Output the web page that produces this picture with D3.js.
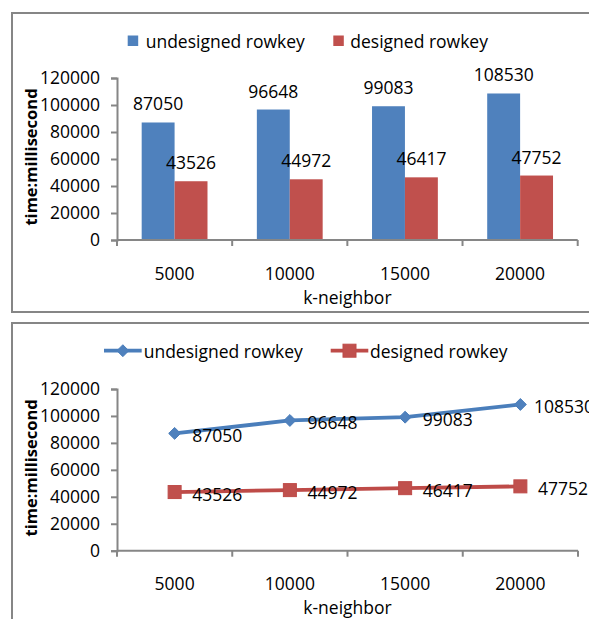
<!DOCTYPE html>
<html><head><meta charset="utf-8">
<script src="https://cdn.jsdelivr.net/npm/d3@7"></script>
<style>
html,body{margin:0;padding:0;background:#fff;}
svg{display:block;}
text{font-family:"Open Sans",sans-serif;fill:#000;}
</style></head>
<body>
<svg id="c" width="589" height="619"></svg>
<script>
const categories = ["5000","10000","15000","20000"];
const undesigned = [87050, 96648, 99083, 108530];
const designed = [43526, 44972, 46417, 47752];
const yTicks = [0,20000,40000,60000,80000,100000,120000];
const seriesNames = ["undesigned rowkey","designed rowkey"];
const xTitle = "k-neighbor";
const yTitle = "time:millisecond";

const BLUE = "#4F81BD", RED = "#C0504D", BLUE_L = "#4A7EBB", RED_L = "#BE4B48";
const GRAY = "#868686";
const FS = 17.5;

const svg = d3.select("#c");

function frame(y, h){
  svg.append("rect").attr("x",12).attr("y",y).attr("width",620).attr("height",h)
    .attr("fill","none").attr("stroke",GRAY).attr("stroke-width",2);
}

function axes(g, x, y, top, bottom){
  // y axis
  const ya = d3.axisLeft(y).tickValues(yTicks).tickSize(6).tickPadding(11).tickFormat(d3.format("d"));
  const yg = g.append("g").attr("transform",`translate(${x.range()[0]},0)`).call(ya);
  yg.select(".domain").attr("stroke",GRAY).attr("stroke-width",2);
  yg.selectAll(".tick line").attr("stroke",GRAY).attr("stroke-width",2);
  yg.selectAll(".tick text").attr("font-size",FS).attr("font-family","Open Sans").attr("fill","#000");
  // x axis
  const xg = g.append("g").attr("transform",`translate(0,${y(0)})`);
  xg.append("line").attr("x1",x.range()[0]).attr("x2",x.range()[1])
    .attr("stroke",GRAY).attr("stroke-width",2);
  const bounds = categories.map(c=>x(c)).concat([x.range()[1]]);
  xg.selectAll("line.tk").data(bounds).join("line").attr("class","tk")
    .attr("x1",d=>d).attr("x2",d=>d).attr("y1",0).attr("y2",6)
    .attr("stroke",GRAY).attr("stroke-width",2);
  xg.selectAll("text.lb").data(categories).join("text").attr("class","lb")
    .attr("x",d=>x(d)+x.bandwidth()/2).attr("y",32.7)
    .attr("text-anchor","middle").attr("dominant-baseline","central")
    .attr("font-size",FS).text(d=>d);
  xg.append("text").attr("x",(x.range()[0]+x.range()[1])/2).attr("y",56.7)
    .attr("text-anchor","middle").attr("dominant-baseline","central")
    .attr("font-size",FS).text(xTitle);
  // y title
  const cy = (y(0)+y(120000))/2 - 2;
  g.append("text").attr("transform",`translate(30,${cy}) rotate(-90)`)
    .attr("text-anchor","middle").attr("dominant-baseline","central")
    .attr("font-size",16.5).attr("font-weight","bold").text(yTitle);
}

// ---------- Top: bar chart ----------
frame(13, 299);
const g1 = svg.append("g");
const x1 = d3.scaleBand().domain(categories).range([117, 577.7]).padding(0);
const y1 = d3.scaleLinear().domain([0,120000]).range([240, 78]);
const bw = x1.bandwidth()/3.5;
const data1 = [undesigned, designed];
const cols = [BLUE, RED];
data1.forEach((vals, si)=>{
  const bx = (c)=> x1(c) + bw*0.75 + si*bw;
  g1.selectAll(null).data(categories).join("rect")
    .attr("x",c=>bx(c)).attr("width",bw)
    .attr("y",(c,i)=>y1(vals[i])).attr("height",(c,i)=>y1(0)-y1(vals[i]))
    .attr("fill",cols[si]);
  g1.selectAll(null).data(categories).join("text")
    .attr("x",c=>bx(c)+bw/2).attr("y",(c,i)=>y1(vals[i])-19)
    .attr("text-anchor","middle").attr("dominant-baseline","central")
    .attr("font-size",FS).text((c,i)=>vals[i]);
});
axes(g1, x1, y1);
// legend top
[[127.7,145.7],[333.3,350.3]].forEach((p,i)=>{
  g1.append("rect").attr("x",p[0]).attr("y",35.5).attr("width",10.5).attr("height",10.5).attr("fill",cols[i]);
  g1.append("text").attr("x",p[1]).attr("y",40.5).attr("dominant-baseline","central")
    .attr("font-size",FS).text(seriesNames[i]);
});

// ---------- Bottom: line chart ----------
frame(323, 400);
const g2 = svg.append("g");
const x2 = d3.scaleBand().domain(categories).range([117, 578]).padding(0);
const y2 = d3.scaleLinear().domain([0,120000]).range([550.7, 389]);
axes(g2, x2, y2);
const lineCols = [BLUE_L, RED_L];
const line = d3.line().x(d=>x2(d.c)+x2.bandwidth()/2).y(d=>y2(d.v));
const diamond = d3.symbol().type(d3.symbolDiamond2).size(80);
data1.forEach((vals, si)=>{
  const pts = categories.map((c,i)=>({c, v:vals[i]}));
  g2.append("path").attr("d",line(pts)).attr("fill","none")
    .attr("stroke",lineCols[si]).attr("stroke-width",3.8).attr("stroke-linejoin","round");
  pts.forEach(p=>{
    const px = x2(p.c)+x2.bandwidth()/2, py = y2(p.v);
    if(si===0){
      g2.append("path").attr("d",d3.symbol().type(d3.symbolDiamond2).size(90)())
        .attr("transform",`translate(${px},${py})`).attr("fill",BLUE).attr("stroke",BLUE_L).attr("stroke-width",1);
    } else {
      g2.append("rect").attr("x",px-6.5).attr("y",py-6.5).attr("width",13).attr("height",13)
        .attr("fill",RED).attr("stroke",RED_L).attr("stroke-width",1);
    }
    const t = g2.append("text").attr("x",px+17.5).attr("y",py+1.5)
      .attr("dominant-baseline","central").attr("font-size",FS).text(p.v);
    const w = t.node().getComputedTextLength();
    const maxRight = 594;
    if(px+17.5+w > maxRight) t.attr("x", Math.max(px+8, maxRight - w));
  });
});
// legend bottom
[[104,141.7,145.7],[330.7,368.3,372]].forEach((p,i)=>{
  g2.append("line").attr("x1",p[0]).attr("x2",p[1]).attr("y1",350.7).attr("y2",350.7)
    .attr("stroke",lineCols[i]).attr("stroke-width",3.8);
  const cx=(p[0]+p[1])/2;
  if(i===0){
    g2.append("path").attr("d",d3.symbol().type(d3.symbolDiamond2).size(90)())
      .attr("transform",`translate(${cx},350.7)`).attr("fill",BLUE).attr("stroke",BLUE_L);
  } else {
    g2.append("rect").attr("x",cx-6.5).attr("y",344.2).attr("width",13).attr("height",13)
      .attr("fill",RED).attr("stroke",RED_L);
  }
  g2.append("text").attr("x",p[2]-2).attr("y",351).attr("dominant-baseline","central")
    .attr("font-size",FS).text(seriesNames[i]);
});
</script>
</body></html>
